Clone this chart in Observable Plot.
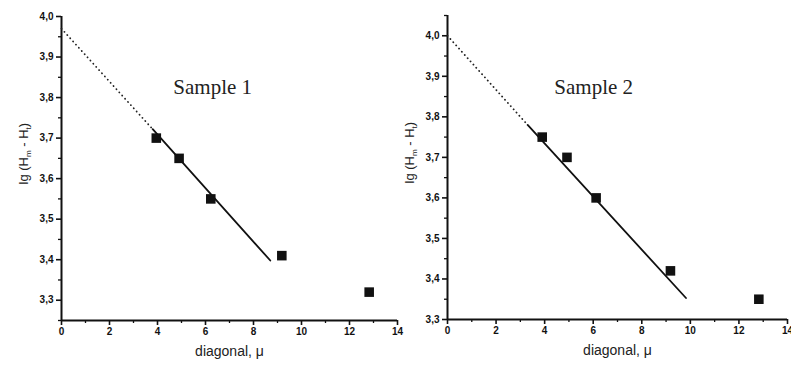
<!DOCTYPE html>
<html>
<head>
<meta charset="utf-8">
<script src="https://cdn.jsdelivr.net/npm/d3@7"></script>
<script src="https://cdn.jsdelivr.net/npm/@observablehq/plot@0.6"></script>
<style>
  html, body { margin: 0; padding: 0; background: #fff; }
  #wrap { position: relative; width: 791px; height: 366px; overflow: hidden; background: #fff; }
  #wrap > svg { position: absolute; top: 0; }
</style>
</head>
<body>
<div id="wrap"></div>
<script>
// ---- data ----
const titles = ["Sample 1", "Sample 2"];
const xTicks = [0, 2, 4, 6, 8, 10, 12, 14];
const xMinor = [1, 3, 5, 7, 9, 11, 13];
const yTicks = [3.3, 3.4, 3.5, 3.6, 3.7, 3.8, 3.9, 4.0];
const yMinor = [3.25, 3.35, 3.45, 3.55, 3.65, 3.75, 3.85, 3.95, 4.05];

const s1X = [3.95, 4.9, 6.22, 9.18, 12.82];
const s1Y = [3.70, 3.65, 3.55, 3.41, 3.32];
const fit1X = [0, 3.8, 8.7];      // dotted from first to second, solid from second to third
const fit1Y = [3.97, 3.722, 3.398];

const s2X = [3.9, 4.92, 6.12, 9.18, 12.82];
const s2Y = [3.75, 3.70, 3.60, 3.42, 3.35];
const fit2X = [0, 3.3, 9.82];
const fit2Y = [4.0, 3.78, 3.353];

const titlePos1 = [6.3, 3.826];
const titlePos2 = [6.02, 3.872];

const fmt = d => d.toFixed(1).replace(".", ",");
const sans = "Arial, 'Liberation Sans', sans-serif";

function panel({title, titlePos, xs, ys, fx, fy, yDomain, width, mL, mR, mT, mB, left}) {
  const pts = xs.map((x, i) => ({x, y: ys[i]}));
  const dotted = [{x: fx[0], y: fy[0]}, {x: fx[1], y: fy[1]}];
  const solid = [{x: fx[1], y: fy[1]}, {x: fx[2], y: fy[2]}];
  const yMin = yDomain[0];
  const ym = yMinor.filter(v => v > yDomain[0] - 1e-9 && v < yDomain[1] + 1e-9);
  const svg = Plot.plot({
    width, height: 366,
    marginLeft: mL, marginRight: mR, marginTop: mT, marginBottom: mB,
    style: {background: "transparent", color: "#111", fontFamily: sans},
    x: {domain: [0, 14]},
    y: {domain: yDomain},
    marks: [
      Plot.axisX(xTicks, {tickSize: 5, tickPadding: 2, tickFormat: d => String(d), fontSize: 10, fontWeight: "bold", fill: "#111", strokeWidth: 1.6, label: null}),
      Plot.axisX(xMinor, {tickSize: 3, tickFormat: () => "", strokeWidth: 1.3, label: null}),
      Plot.axisY(yTicks, {tickSize: 5, tickPadding: 3, tickFormat: fmt, fontSize: 10, fontWeight: "bold", fill: "#111", strokeWidth: 1.6, label: null}),
      Plot.axisY(ym, {tickSize: 3, tickFormat: () => "", strokeWidth: 1.3, label: null}),
      Plot.ruleX([0], {stroke: "#111", strokeWidth: 2}),
      Plot.ruleY([yMin], {stroke: "#111", strokeWidth: 2}),
      Plot.line(dotted, {x: "x", y: "y", stroke: "#222", strokeWidth: 1.8, strokeLinecap: "round", strokeDasharray: "0.1,4.2"}),
      Plot.line(solid, {x: "x", y: "y", stroke: "#111", strokeWidth: 1.8}),
      Plot.dot(pts, {x: "x", y: "y", symbol: "square", r: 5.4, fill: "#111", stroke: "none"}),
      Plot.text([title], {x: titlePos[0], y: titlePos[1], text: d => d, fontFamily: "'Liberation Serif', 'Times New Roman', serif", fontSize: 21, fill: "#222"}),
      Plot.text(["diagonal, μ"], {frameAnchor: "bottom", dy: 35, text: d => d, fontSize: 14, fill: "#222"}),
      Plot.text(["lg (Hm - Ht)"], {frameAnchor: "left", dx: left, dy: 16, rotate: -90, text: d => d, fontSize: 13, fill: "#222", className: "ylab"})
    ]
  });
  // add subscripts to the y label
  svg.querySelectorAll(".ylab text").forEach(t => {
    t.textContent = "";
    const parts = [["lg (H", 0, null], ["m", 3, 8], [" - H", -3, null], ["t", 3, 8], [")", -3, null]];
    for (const [s, dy, fs] of parts) {
      const ts = document.createElementNS("http://www.w3.org/2000/svg", "tspan");
      ts.textContent = s;
      if (dy) ts.setAttribute("dy", dy);
      if (fs) ts.setAttribute("font-size", fs);
      t.appendChild(ts);
    }
  });
  return svg;
}

const wrap = document.getElementById("wrap");
const p1 = panel({title: titles[0], titlePos: titlePos1, xs: s1X, ys: s1Y, fx: fit1X, fy: fit1Y,
  yDomain: [3.25, 4.0], width: 410, mL: 61, mR: 13, mT: 16, mB: 46, left: -38});
p1.style.left = "0px";
const p2 = panel({title: titles[1], titlePos: titlePos2, xs: s2X, ys: s2Y, fx: fit2X, fy: fit2Y,
  yDomain: [3.3, 4.05], width: 398, mL: 54, mR: 4, mT: 15, mB: 47, left: -38});
p2.style.left = "393px";
wrap.appendChild(p1);
wrap.appendChild(p2);
</script>
</body>
</html>
